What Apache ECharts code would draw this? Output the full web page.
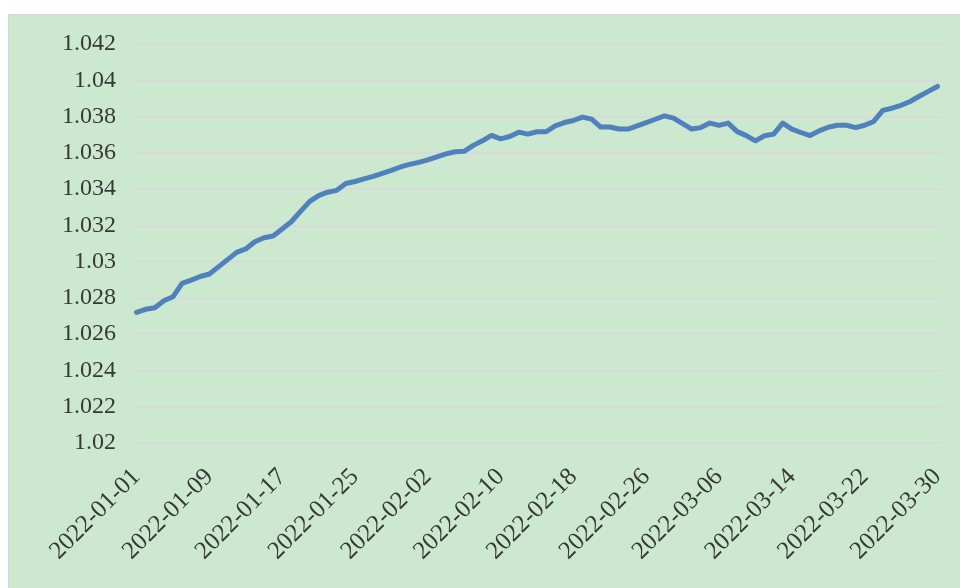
<!DOCTYPE html>
<html>
<head>
<meta charset="utf-8">
<script src="https://cdn.jsdelivr.net/npm/echarts@6/dist/echarts.min.js"></script>
<style>
html,body{margin:0;padding:0;background:#ffffff;width:960px;height:588px;overflow:hidden;}
#chart{position:absolute;left:8px;top:14px;width:952px;height:574px;background:#cce8cf;border-top:1px solid #d6d6d6;border-left:1px solid #d6d6d6;box-sizing:border-box;}
</style>
</head>
<body>
<div id="chart"></div>
<script>
var categories = [
"2022-01-01","2022-01-02","2022-01-03","2022-01-04","2022-01-05","2022-01-06","2022-01-07","2022-01-08","2022-01-09","2022-01-10",
"2022-01-11","2022-01-12","2022-01-13","2022-01-14","2022-01-15","2022-01-16","2022-01-17","2022-01-18","2022-01-19","2022-01-20",
"2022-01-21","2022-01-22","2022-01-23","2022-01-24","2022-01-25","2022-01-26","2022-01-27","2022-01-28","2022-01-29","2022-01-30",
"2022-01-31","2022-02-01","2022-02-02","2022-02-03","2022-02-04","2022-02-05","2022-02-06","2022-02-07","2022-02-08","2022-02-09",
"2022-02-10","2022-02-11","2022-02-12","2022-02-13","2022-02-14","2022-02-15","2022-02-16","2022-02-17","2022-02-18","2022-02-19",
"2022-02-20","2022-02-21","2022-02-22","2022-02-23","2022-02-24","2022-02-25","2022-02-26","2022-02-27","2022-02-28","2022-03-01",
"2022-03-02","2022-03-03","2022-03-04","2022-03-05","2022-03-06","2022-03-07","2022-03-08","2022-03-09","2022-03-10","2022-03-11",
"2022-03-12","2022-03-13","2022-03-14","2022-03-15","2022-03-16","2022-03-17","2022-03-18","2022-03-19","2022-03-20","2022-03-21",
"2022-03-22","2022-03-23","2022-03-24","2022-03-25","2022-03-26","2022-03-27","2022-03-28","2022-03-29","2022-03-30"
];
var values = [
1.02720,1.02737,1.02746,1.02784,1.02806,1.02880,1.02898,1.02918,1.02932,1.02971,
1.03011,1.03051,1.03070,1.03110,1.03132,1.03141,1.03180,1.03220,1.03276,1.03331,
1.03364,1.03383,1.03393,1.03431,1.03442,1.03456,1.03470,1.03487,1.03503,1.03522,
1.03536,1.03547,1.03561,1.03578,1.03594,1.03606,1.03608,1.03641,1.03666,1.03696,
1.03677,1.03690,1.03714,1.03703,1.03716,1.03716,1.03749,1.03767,1.03778,1.03797,
1.03786,1.03742,1.03742,1.03731,1.03731,1.03749,1.03767,1.03785,1.03804,1.03791,
1.03761,1.03731,1.03739,1.03764,1.03751,1.03764,1.03717,1.03695,1.03666,1.03694,
1.03703,1.03764,1.03731,1.03712,1.03695,1.03721,1.03741,1.03752,1.03752,1.03739,
1.03752,1.03773,1.03834,1.03846,1.03862,1.03883,1.03912,1.03939,1.03966
];
var yMin = 1.020;
var yMax = 1.042;
var yStep = 0.002;
var xLabelEvery = 8;

var chart = echarts.init(document.getElementById('chart'), null, {renderer: 'canvas'});
var fontFam = '"Liberation Serif", "DejaVu Serif", serif';
chart.setOption({
  animation: false,
  backgroundColor: 'transparent',
  grid: {left: 123, right: 18, top: 29, bottom: 145, containLabel: false},
  xAxis: {
    type: 'category',
    data: categories,
    boundaryGap: true,
    axisLine: {show: false},
    axisTick: {show: false},
    splitLine: {show: false},
    axisLabel: {
      interval: xLabelEvery - 1,
      rotate: 45,
      margin: 30,
      color: '#383838',
      fontFamily: fontFam,
      fontSize: 25
    }
  },
  yAxis: {
    type: 'value',
    min: yMin,
    max: yMax,
    interval: yStep,
    axisLine: {show: false},
    axisTick: {show: false},
    splitLine: {show: true, lineStyle: {color: '#d9d9d9', width: 2}},
    axisLabel: {
      margin: 16,
      color: '#383838',
      fontFamily: fontFam,
      fontSize: 24,
      formatter: function (v) { return String(parseFloat(v.toFixed(3))); }
    }
  },
  series: [{
    type: 'line',
    data: values,
    showSymbol: false,
    symbol: 'none',
    smooth: false,
    lineStyle: {color: '#4f81bd', width: 5, cap: 'round', join: 'round'},
    itemStyle: {color: '#4f81bd'}
  }]
});
</script>
</body>
</html>
